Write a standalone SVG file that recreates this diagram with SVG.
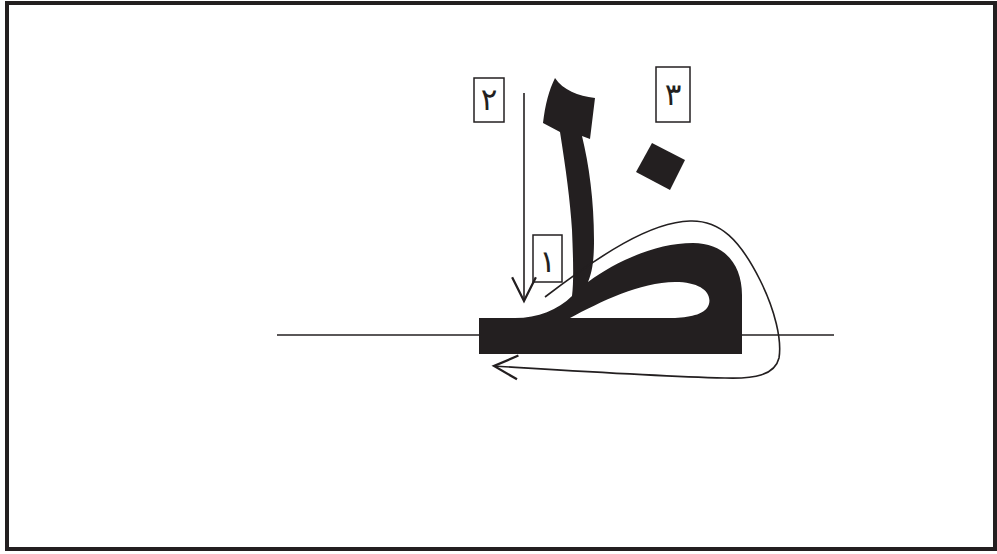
<svg xmlns="http://www.w3.org/2000/svg" width="997" height="554" viewBox="0 0 997 554">
<style>
.ink{fill:#231f20}
.ln{fill:none;stroke:#231f20;stroke-width:1.6}
.box{fill:#fff;stroke:#231f20;stroke-width:1.5}
.lbl{font-family:"DejaVu Sans",sans-serif;font-size:31px;fill:#231f20;text-anchor:middle}
</style>
<defs>
<marker id="vh" markerUnits="userSpaceOnUse" markerWidth="30" markerHeight="30" refX="0" refY="0" viewBox="-22 -12 24 24" orient="auto" overflow="visible">
<path d="M-19,-9.5 L0,0 L-19,9.5" fill="none" stroke="#231f20" stroke-width="1.8"/>
</marker>
</defs>
<rect x="7" y="3" width="988" height="546" fill="#fff" stroke="#231f20" stroke-width="4"/>
<line x1="5" y1="549.5" x2="997" y2="549.5" stroke="#231f20" stroke-width="3"/>
<g id="baseline">
<line class="ln" x1="277" y1="335" x2="834" y2="335" stroke-width="1.5"/>
</g>
<g id="letter">
<path class="ink" fill-rule="evenodd" d="M479,354 L479,318 L515,318 C538,318 558,310 572,296 C574,280 573,255 572,230 C570,200 566,170 560,132 L543,123 C545,105 549,90 555,78 C563,90 578,96 595,98 L590,139 L582,136 C589,165 594,200 594,240 C594,262 592,272 588,282 C615,262 655,243 693,243 C725,243 742,265 742,295 L742,354 Z M570,318 C600,302 640,282 675,282 C700,282 712,292 709,304 C706,314 692,317 675,318 Z"/>
<path class="ink" d="M652,143 L685,160 L670,190 L636,172 Z"/>
</g>
<g id="label1">
<rect class="box" x="533" y="235" width="29" height="47"/>
<text class="lbl" x="547.5" y="272">١</text>
</g>
<g id="label2">
<rect class="box" x="474" y="78" width="30" height="44"/>
<text class="lbl" x="489" y="110">٢</text>
</g>
<g id="label3">
<rect class="box" x="656" y="67" width="34" height="55"/>
<text class="lbl" x="673" y="105">٣</text>
</g>
<g id="connectors">
<line class="ln" x1="524" y1="93" x2="524" y2="301" stroke-width="1.7" marker-end="url(#vh)"/>
<path class="ln" stroke-width="1.5" d="M545,297 C600,255 650,222 690,221 C720,220 740,240 760,280 C775,310 782,340 779,358 C775,375 755,379 725,378 C650,376 560,370 494,366" marker-end="url(#vh)"/>
</g>
</svg>
